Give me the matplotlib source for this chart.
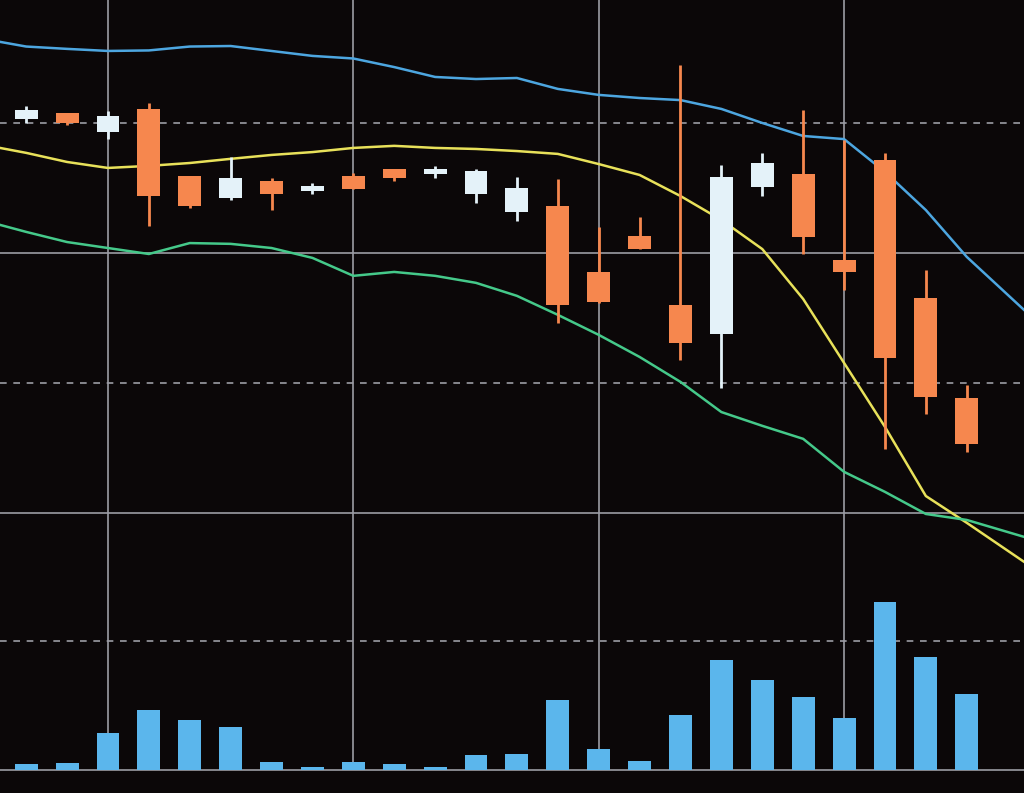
import numpy as np
import matplotlib.pyplot as plt

# candle data (index 0..23)
opens  = [55.15, 55.38, 54.65, 55.54, 52.96, 52.12, 52.77, 52.38, 52.96, 53.23, 53.04, 52.27,
          51.58, 51.81, 49.27, 50.65, 48.00, 46.88, 52.54, 53.04, 49.73, 53.58, 48.27, 44.42]
highs  = [55.65, 55.38, 55.46, 55.77, 52.96, 53.69, 52.88, 52.69, 53.08, 53.23, 53.35, 53.23,
          52.92, 52.85, 51.00, 51.38, 57.23, 53.38, 53.85, 55.50, 54.35, 53.85, 49.35, 44.92]
lows   = [55.00, 54.92, 54.38, 51.04, 51.73, 52.04, 51.65, 52.27, 52.46, 52.77, 52.88, 51.92,
          51.23, 47.31, 48.08, 50.15, 45.88, 44.81, 52.19, 49.96, 48.58, 42.46, 43.81, 42.35]
closes = [55.50, 55.00, 55.27, 52.19, 51.81, 52.88, 52.27, 52.58, 52.46, 52.88, 53.23, 53.15,
          52.50, 48.00, 48.12, 50.15, 46.54, 52.92, 53.46, 50.62, 49.27, 45.96, 44.46, 42.65]
volume = [47, 55, 287, 465, 388, 333, 62, 27, 66, 43, 27, 120,
          128, 543, 163, 70, 426, 853, 698, 566, 403, 1302, 876, 589]

# moving averages, points at candle positions plus both edges
ma_x = [-0.64] + list(range(24)) + [24.4]
ma_blue = [58.12, 57.94, 57.85, 57.77, 57.79, 57.94, 57.96, 57.77, 57.58, 57.48, 57.15, 56.77, 56.69,
           56.73, 56.31, 56.08, 55.96, 55.88, 55.54, 55.00, 54.50, 54.38, 53.12, 51.65, 49.85, 47.81]
ma_yellow = [54.04, 53.85, 53.50, 53.27, 53.35, 53.46, 53.62, 53.77, 53.88, 54.04, 54.12, 54.04, 54.00,
             53.92, 53.81, 53.42, 53.00, 52.19, 51.27, 50.15, 48.23, 45.77, 43.31, 40.65, 39.62, 38.12]
ma_green = [51.08, 50.81, 50.42, 50.19, 49.96, 50.38, 50.35, 50.19, 49.81, 49.12, 49.27, 49.12, 48.85,
            48.35, 47.62, 46.85, 46.00, 45.04, 43.88, 43.35, 42.85, 41.58, 40.81, 39.96, 39.73, 39.08]

bg = "#0b0708"
up_col = "#e4f2f9"
down_col = "#f6874e"
grid_col = "#9c9ca4"
vgrid_x = [2, 8, 14, 20]
xlim = (-0.64, 24.4)

fig = plt.figure(figsize=(10.24, 7.93), dpi=100, facecolor=bg)
ax = fig.add_axes([0, 213 / 793, 1, 580 / 793])
axv = fig.add_axes([0, 0, 1, 213 / 793])
for a in (ax, axv):
    a.set_facecolor(bg)
    a.set_xlim(*xlim)
    a.axis("off")

# price panel
ax.set_ylim(37.42, 59.73)
for gx in vgrid_x:
    ax.axvline(gx, color=grid_col, lw=1.2, zorder=1)
for gy, ls in [(55, (0, (4, 4))), (50, "-"), (45, (0, (4, 4))), (40, "-")]:
    ax.axhline(gy, color=grid_col, lw=1.2, ls=ls, zorder=1)

ax.plot(ma_x, ma_blue, color="#4da6e0", lw=1.8, zorder=2)
ax.plot(ma_x, ma_yellow, color="#e8e15a", lw=1.8, zorder=2)
ax.plot(ma_x, ma_green, color="#45c98a", lw=1.8, zorder=2)

w = 0.56
for i in range(len(opens)):
    o, h, l, c = opens[i], highs[i], lows[i], closes[i]
    col = up_col if c >= o else down_col
    ax.vlines(i, l, h, color=col, lw=2, zorder=3)
    ax.bar(i, abs(c - o), w, bottom=min(o, c), color=col, zorder=4)

# volume panel
axv.set_ylim(-178, 1473)
axv.vlines(vgrid_x, 0, 1473, color=grid_col, lw=1.2, zorder=1)
axv.axhline(1000, color=grid_col, lw=1.2, ls=(0, (4, 4)), zorder=1)
axv.axhline(0, color=grid_col, lw=1.2, zorder=1)
axv.bar(range(len(volume)), volume, w, color="#5bb6ec", zorder=3)

fig.savefig("out.png", dpi=100, facecolor=bg)
